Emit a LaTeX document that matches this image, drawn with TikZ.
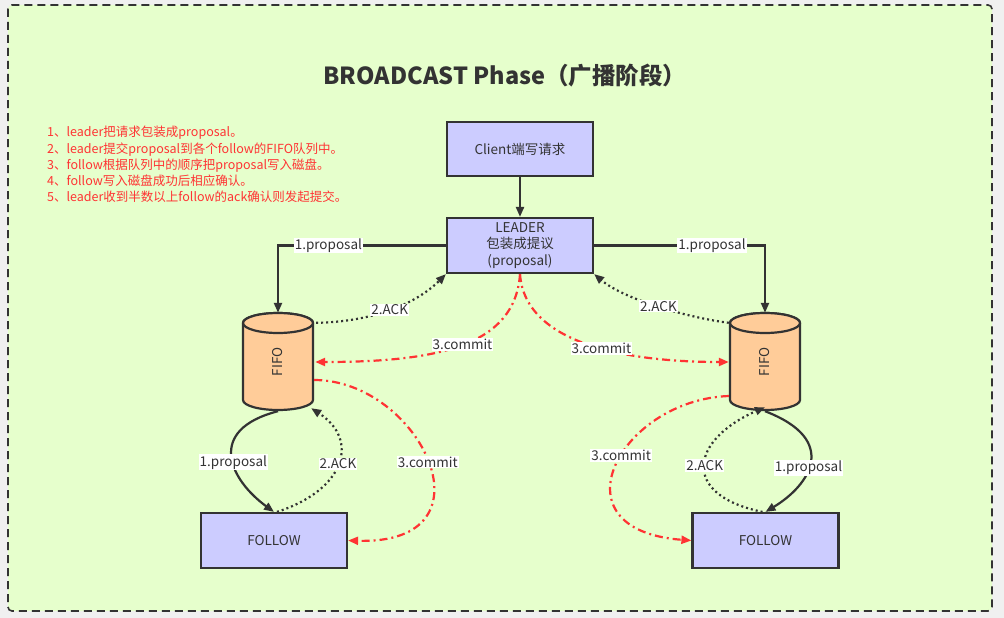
\documentclass[tikz,border=0pt]{standalone}
\usepackage{fontspec}
\setmainfont{Noto Sans CJK SC}
\usetikzlibrary{arrows.meta,calc}
\definecolor{bg}{HTML}{E6FFCC}
\definecolor{outerc}{HTML}{F0F0F0}
\definecolor{ink}{HTML}{333333}
\definecolor{boxfill}{HTML}{CCCCFF}
\definecolor{cylfill}{HTML}{FFCC99}
\definecolor{redc}{HTML}{FF3333}
\newcommand\drawfifo[1]{%
  \filldraw[cylstyle] (#1-35,323) -- (#1-35,400)
    arc[start angle=180,end angle=0,x radius=35,y radius=10] -- (#1+35,323)
    arc[start angle=0,end angle=-180,x radius=35,y radius=10] -- cycle;
  \draw[cylstyle] (#1,323) ellipse[x radius=35,y radius=10];}
\begin{document}
\begin{tikzpicture}[x=1pt,y=-1pt,
  txt/.style={font=\fontsize{13.5}{16.5}\selectfont, text=ink},
  box/.style={txt, draw=ink, line width=2.2pt, fill=boxfill, minimum width=146pt, minimum height=55pt, inner sep=0pt, align=center},
  cylstyle/.style={draw=ink, line width=2.2pt, fill=cylfill},
  lbl/.style={txt, fill=white, inner sep=1pt},
  tip/.style={-{Triangle[length=10pt,width=8pt]}},
  arr/.style={tip, draw=ink, line width=2.2pt},
  ack/.style={tip, draw=ink, line width=2.2pt, dash pattern=on 2pt off 3pt},
  cmt/.style={-{Triangle[length=10pt,width=8pt]}, draw=redc, line width=2.2pt, dash pattern=on 8pt off 4pt on 2pt off 4pt}
]
\useasboundingbox (0,0) rectangle (1004,618);
\fill[outerc] (0,0) rectangle (1004,618);
\draw[draw=ink, line width=1.6pt, dash pattern=on 8pt off 5pt, fill=bg, rounded corners=4pt] (8,5) rectangle (992,611);

\node[font=\fontsize{23.5}{27}\selectfont\bfseries, text=ink] (title) at (505,76) {BROADCAST Phase（广播阶段）};

\node[font=\fontsize{12.5}{16.3}\selectfont, text=redc, align=left, anchor=north west, inner sep=0pt] (notes) at (47,126) {1、leader把请求包装成proposal。\\2、leader提交proposal到各个follow的FIFO队列中。\\3、follow根据队列中的顺序把proposal写入磁盘。\\4、follow写入磁盘成功后相应确认。\\5、leader收到半数以上follow的ack确认则发起提交。};

\node[box, minimum height=54pt] (client) at (520,149) {Client端写请求};
\node[box] (leader) at (520,245.5) {LEADER\\包装成提议\\(proposal)};

\drawfifo{278}
\drawfifo{765}
\node[inner sep=0pt, minimum width=70pt, minimum height=98pt, label={[rotate=90, txt]center:FIFO}] (fifoL) at (278,362) {};
\node[inner sep=0pt, minimum width=70pt, minimum height=98pt, label={[rotate=90, txt]center:FIFO}] (fifoR) at (765,362) {};

\node[box] (followL) at (274,540.5) {FOLLOW};
\node[box] (followR) at (765.5,540.5) {FOLLOW};

\draw[arr] (client) -- (leader);
\draw[arr] (leader.west) -| node[lbl, pos=0.35] {1.proposal} (fifoL.north);
\draw[arr] (leader.east) -| node[lbl, pos=0.345] {1.proposal} (fifoR.north);

\coordinate (ackLs) at ($(fifoL.north east)+(3,10)$);
\coordinate (ackRs) at ($(fifoR.north west)+(-1,10)$);
\draw[ack] (ackLs) .. controls (370,322) and (415,305) .. node[lbl, pos=0.5] {2.ACK} (leader.south west);
\draw[ack] (ackRs) .. controls (690,318) and (625,300) .. node[lbl, pos=0.5] {2.ACK} (leader.south east);

\coordinate (cmtL) at ($(fifoL.east)+(2,0)$);
\coordinate (cmtR) at ($(fifoR.west)+(-1,0)$);
\draw[cmt] (leader.south) .. controls (515,345) and (440,362) .. node[lbl, pos=0.5] {3.commit} (cmtL);
\draw[cmt] (leader.south) .. controls (525,345) and (630,362) .. node[lbl, pos=0.55] {3.commit} (cmtR);

% lower left
\draw[arr] (fifoL.south) .. controls (205,430) and (230,480) .. node[lbl, pos=0.55] {1.proposal} (followL.north);
\coordinate (ackLb) at ($(followL.north)+(3,0)$);
\coordinate (ackLt) at ($(fifoL.south east)+(-2,-3)$);
\draw[ack] (ackLb) .. controls (345,490) and (360,440) .. node[lbl, pos=0.5] {2.ACK} (ackLt);
\coordinate (cmtLs) at ($(fifoL.east)+(1,18)$);
\draw[cmt] (cmtLs) .. controls (420,380) and (500,545) .. node[lbl, pos=0.5] {3.commit} (followL.east);

% lower right
\draw[arr] (fifoR.south) .. controls (840,440) and (810,485) .. node[lbl, pos=0.55] {1.proposal} (followR.north);
\coordinate (ackRb) at ($(followR.north)+(-3,0)$);
\coordinate (ackRt) at ($(fifoR.south)+(0,-4)$);
\draw[ack] (ackRb) .. controls (680,495) and (690,440) .. node[lbl, pos=0.5] {2.ACK} (ackRt);
\coordinate (cmtRs) at ($(fifoR.west)+(-1,34)$);
\draw[cmt] (cmtRs) .. controls (620,400) and (550,530) .. node[lbl, pos=0.45] {3.commit} (followR.west);
\end{tikzpicture}
\end{document}
